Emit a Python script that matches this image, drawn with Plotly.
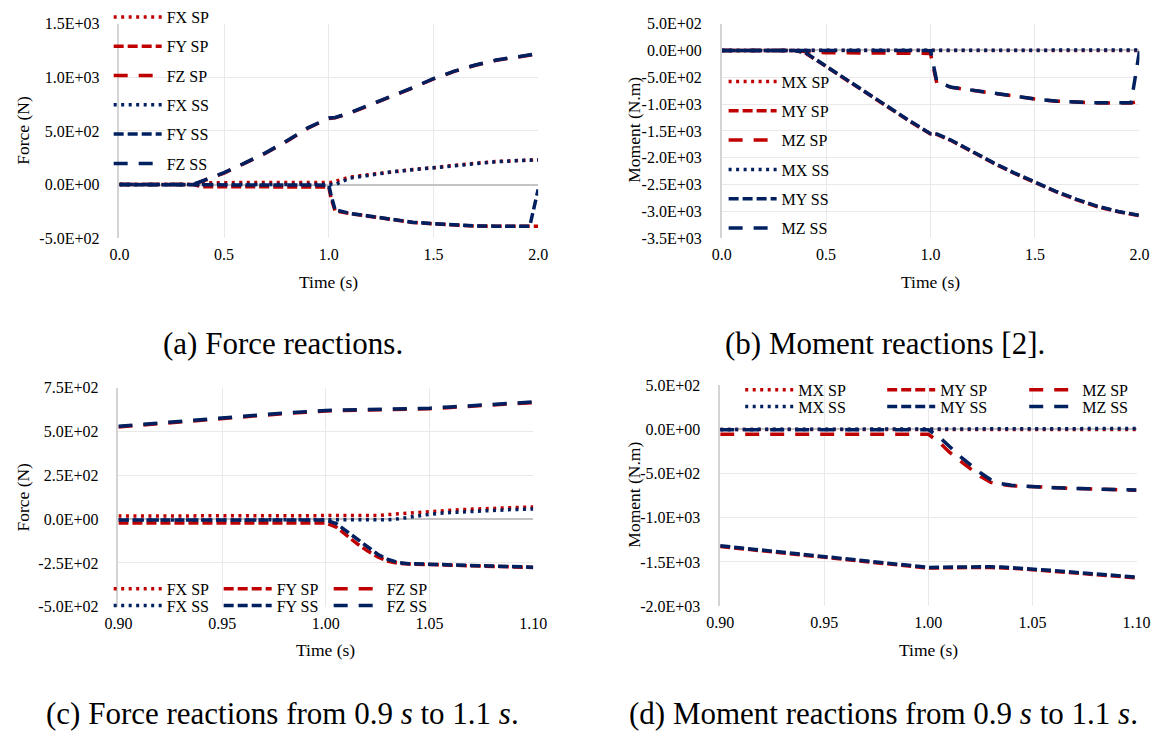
import plotly.graph_objects as go

W, H = 1171, 738
RED = "#C00000"
NAVY = "#002060"
FONT = "Liberation Serif"

# ---------------- data: full time range (panels a, b) ----------------
t_full = [0.0, 0.1, 0.2, 0.3, 0.35, 0.4, 0.5, 0.6, 0.7, 0.8, 0.9, 1.0, 1.01, 1.03,
          1.1, 1.2, 1.3, 1.4, 1.5, 1.6, 1.7, 1.8, 1.9, 1.96, 2.0]

fx_sp = [0, 0, 0, 0, 0, 18, 18, 18, 18, 18, 18, 18, 20, 30,
         70, 95, 120, 140, 158, 180, 200, 215, 225, 228, 232]
fy_sp = [0, 0, 0, 0, 0, -20, -20, -20, -20, -20, -20, -22, -120, -245,
         -270, -300, -330, -352, -365, -378, -386, -388, -388, -388, -388]
fz_sp = [0, 0, 0, 0, 0, 35, 108, 200, 295, 405, 526, 617, 618, 622,
         665, 740, 822, 900, 985, 1055, 1112, 1158, 1192, 1208, 1218]
fx_ss = [0, 0, 0, 0, 0, -3, -3, -3, -3, -3, -3, -3, -3, 0,
         60, 92, 118, 138, 156, 178, 198, 213, 224, 227, 230]
fy_ss = [0, 0, 0, 0, 0, -5, -5, -5, -5, -5, -5, -5, -90, -235,
         -268, -298, -328, -350, -363, -376, -385, -387, -387, -387, -45]
fz_ss = [0, 0, 0, 0, 0, 38, 111, 203, 298, 408, 529, 620, 621, 625,
         668, 743, 825, 903, 988, 1058, 1115, 1161, 1195, 1211, 1221]

mx_sp = [0, 0, 0, 0, 0, 0, 0, 0, 0, 0, 0, 0, 0, 0,
         0, 0, 0, 0, 0, 0, 0, 0, 0, 0, 0]
my_sp = [0, 0, 0, 0, 0, -45, -300, -565, -825, -1070, -1320, -1558, -1565, -1565,
         -1682, -1898, -2098, -2288, -2468, -2633, -2783, -2913, -3008, -3050, -3080]
mz_sp = [0, 0, 0, 0, 0, -20, -45, -45, -45, -45, -50, -55, -255, -605,
         -688, -740, -800, -860, -905, -945, -968, -978, -978, -978, -945]
mx_ss = [0, 0, 0, 0, 0, 3, 3, 3, 3, 3, 3, 4, 5, 6,
         8, 8, 8, 8, 8, 8, 8, 8, 8, 8, 8]
my_ss = [0, 0, 0, 0, 0, -38, -292, -557, -817, -1062, -1312, -1550, -1557, -1557,
         -1674, -1890, -2090, -2280, -2460, -2625, -2775, -2905, -3000, -3042, -3072]
mz_ss = [0, 0, 0, 0, 0, 0, -3, -3, -3, -3, -3, -3, -200, -580,
         -686, -738, -798, -858, -903, -943, -966, -976, -976, -976, -15]

# ---------------- data: zoomed time range (panels c, d) ----------------
t_zoom = [0.90, 0.92, 0.94, 0.96, 0.98, 1.00, 1.005, 1.01, 1.015, 1.02,
          1.025, 1.03, 1.035, 1.04, 1.05, 1.06, 1.07, 1.08, 1.09, 1.10]

fx_sp_z = [18, 18, 18, 18, 18, 18, 18, 18, 18, 19, 21, 26, 31, 36, 44, 51, 57, 62, 66, 70]
fy_sp_z = [-22, -22, -22, -22, -22, -22, -45, -95, -140, -180,
           -215, -240, -252, -256, -260, -262, -265, -268, -272, -276]
fz_sp_z = [527, 547, 565, 585, 603, 618, 619, 620, 621, 622,
           623, 624, 625, 627, 631, 638, 645, 653, 660, 666]
fx_ss_z = [-5, -5, -5, -5, -5, -5, -5, -5, -5, -5, -5, -3, 2, 10, 28, 38, 45, 50, 55, 58]
fy_ss_z = [-5, -5, -5, -5, -5, -5, -25, -70, -115, -160,
           -200, -230, -248, -254, -258, -260, -263, -266, -270, -274]
fz_ss_z = [530, 550, 568, 588, 606, 621, 622, 623, 624, 625,
           626, 627, 628, 630, 634, 641, 648, 656, 663, 669]

mx_sp_z = [0, 0, 0, 0, 0, 0, 0, 0, 0, 0, 0, 0, 0, 0, 0, 0, 0, 0, 0, 0]
my_sp_z = [-1325, -1375, -1425, -1472, -1520, -1570, -1568, -1565, -1562, -1562,
           -1562, -1563, -1566, -1572, -1588, -1605, -1625, -1645, -1662, -1680]
mz_sp_z = [-55, -55, -55, -55, -55, -55, -140, -255, -350, -445,
           -530, -600, -625, -637, -650, -660, -668, -676, -682, -688]
mx_ss_z = [0, 0, 0, 0, 0, 0, 2, 3, 3, 4, 4, 5, 5, 6, 7, 8, 9, 10, 11, 12]
my_ss_z = [-1317, -1367, -1417, -1464, -1512, -1562, -1560, -1557, -1554, -1554,
           -1554, -1555, -1558, -1564, -1580, -1597, -1617, -1637, -1654, -1672]
mz_ss_z = [-3, -3, -3, -3, -3, -3, -80, -195, -300, -395,
           -490, -570, -615, -633, -648, -659, -667, -675, -681, -687]

# ---------------- tick labels ----------------
ticks_a = [-500, 0, 500, 1000, 1500]
labels_a = ["-5.0E+02", "0.0E+00", "5.0E+02", "1.0E+03", "1.5E+03"]
ticks_b = [-3500, -3000, -2500, -2000, -1500, -1000, -500, 0, 500]
labels_b = ["-3.5E+03", "-3.0E+03", "-2.5E+03", "-2.0E+03", "-1.5E+03",
            "-1.0E+03", "-5.0E+02", "0.0E+00", "5.0E+02"]
ticks_c = [-500, -250, 0, 250, 500, 750]
labels_c = ["-5.0E+02", "-2.5E+02", "0.0E+00", "2.5E+02", "5.0E+02", "7.5E+02"]
ticks_d = [-2000, -1500, -1000, -500, 0, 500]
labels_d = ["-2.0E+03", "-1.5E+03", "-1.0E+03", "-5.0E+02", "0.0E+00", "5.0E+02"]

captions = ["(a) Force reactions.", "(b) Moment reactions [2].",
            "(c) Force reactions from 0.9 <i>s</i> to 1.1 <i>s</i>.",
            "(d) Moment reactions from 0.9 <i>s</i> to 1.1 <i>s</i>."]

DOT = "3px,4.5px"
DASH = "10px,4px"
LDASH = "14px,11px"
LW = 3.5


def px_x(p):
    return p / W


def px_y(p):
    return 1 - p / H


fig = go.Figure()


def add_set(names, xs, ys_list, colors, dashes, xa, ya, legends, groups):
    for name, ys, c, d, lg, gr in zip(names, ys_list, colors, dashes, legends, groups):
        fig.add_trace(go.Scatter(x=xs, y=ys, name=name, mode="lines",
                                 line=dict(color=c, width=LW, dash=d),
                                 xaxis=xa, yaxis=ya, legend=lg, legendgroup=gr))


cols = [RED, RED, RED, NAVY, NAVY, NAVY]
dashes = [DOT, DASH, LDASH, DOT, DASH, LDASH]

# panel a
add_set(["FX SP", "FY SP", "FZ SP", "FX SS", "FY SS", "FZ SS"], t_full,
        [fx_sp, fy_sp, fz_sp, fx_ss, fy_ss, fz_ss], cols, dashes, "x", "y",
        ["legend"] * 6, ["a1", "a2", "a3", "a4", "a5", "a6"])
# panel b
add_set(["MX SP", "MY SP", "MZ SP", "MX SS", "MY SS", "MZ SS"], t_full,
        [mx_sp, my_sp, mz_sp, mx_ss, my_ss, mz_ss], cols, dashes, "x2", "y2",
        ["legend2"] * 6, ["b1", "b2", "b3", "b4", "b5", "b6"])
# panel c
add_set(["FX SP", "FY SP", "FZ SP", "FX SS", "FY SS", "FZ SS"], t_zoom,
        [fx_sp_z, fy_sp_z, fz_sp_z, fx_ss_z, fy_ss_z, fz_ss_z], cols, dashes, "x3", "y3",
        ["legend3"] * 3 + ["legend4"] * 3, ["c1", "c2", "c3", "c4", "c5", "c6"])
# panel d
add_set(["MX SP", "MY SP", "MZ SP", "MX SS", "MY SS", "MZ SS"], t_zoom,
        [mx_sp_z, my_sp_z, mz_sp_z, mx_ss_z, my_ss_z, mz_ss_z], cols, dashes, "x4", "y4",
        ["legend5"] * 3 + ["legend6"] * 3, ["d1", "d2", "d3", "d4", "d5", "d6"])

GRID = "#E9E9E9"
tickfont = dict(family=FONT, size=16, color="#000000")


def xaxis(domain, rng, dtick, fmt, anchor):
    return dict(domain=domain, range=rng, dtick=dtick, tick0=rng[0], tickformat=fmt,
                showgrid=True, gridcolor=GRID, gridwidth=1.3, zeroline=False,
                showline=False, ticks="", tickfont=tickfont, anchor=anchor,
                ticklabelstandoff=5, fixedrange=True)


def yaxis(domain, rng, tv, tt, anchor):
    return dict(domain=domain, range=rng, tickvals=tv, ticktext=tt,
                showgrid=True, gridcolor=GRID, gridwidth=1.3,
                zeroline=True, zerolinecolor="#C4C4C4", zerolinewidth=1.5,
                showline=True, linecolor="#D4D4D4", linewidth=1.5,
                ticks="", tickfont=tickfont, anchor=anchor,
                ticklabelstandoff=15, fixedrange=True)


layout = dict(
    width=W, height=H, margin=dict(l=0, r=0, t=0, b=0),
    paper_bgcolor="white", plot_bgcolor="white",
    font=dict(family=FONT, size=16, color="#000000"),
    xaxis=xaxis([px_x(108), px_x(537)], [0, 2], 0.5, ".1f", "y"),
    yaxis=yaxis([px_y(235), px_y(15)], [-500, 1500], ticks_a, labels_a, "x"),
    xaxis2=xaxis([px_x(725), px_x(1153)], [0, 2], 0.5, ".1f", "y2"),
    yaxis2=yaxis([px_y(235), px_y(15)], [-3500, 500], ticks_b, labels_b, "x2"),
    xaxis3=xaxis([px_x(107), px_x(532)], [0.9, 1.1], 0.05, ".2f", "y3"),
    yaxis3=yaxis([px_y(612.7), px_y(388.3)], [-500, 750], ticks_c, labels_c, "x3"),
    xaxis4=xaxis([px_x(723.5), px_x(1150)], [0.9, 1.1], 0.05, ".2f", "y4"),
    yaxis4=yaxis([px_y(612), px_y(385.7)], [-2000, 500], ticks_d, labels_d, "x4"),
)

leg_common = dict(font=dict(family=FONT, size=16, color="#000000"),
                  bgcolor="rgba(0,0,0,0)", borderwidth=0, itemwidth=48,
                  xanchor="left", yanchor="top", itemclick=False, itemdoubleclick=False)

layout["legend"] = dict(**leg_common, x=px_x(97), y=px_y(-9.5), orientation="v",
                        traceorder="grouped", tracegroupgap=5.5)
layout["legend2"] = dict(**leg_common, x=px_x(727), y=px_y(57), orientation="v",
                         traceorder="grouped", tracegroupgap=5.5)
layout["legend3"] = dict(**leg_common, x=px_x(97), y=px_y(577), orientation="h",
                         entrywidth=47, traceorder="normal")
layout["legend4"] = dict(**leg_common, x=px_x(97), y=px_y(594), orientation="h",
                         entrywidth=47, traceorder="normal")
layout["legend5"] = dict(**leg_common, x=px_x(744), y=px_y(373), orientation="h",
                         entrywidth=79, traceorder="normal")
layout["legend6"] = dict(**leg_common, x=px_x(744), y=px_y(390), orientation="h",
                         entrywidth=79, traceorder="normal")

annotations = []
# axis titles
for (cx, cy, txt) in [(9, 124, "Force (N)"), (635, 124, "Moment (N.m)"),
                      (9, 500, "Force (N)"), (635, 498, "Moment (N.m)")]:
    annotations.append(dict(x=px_x(cx), y=px_y(cy), xref="paper", yref="paper",
                            text=txt, showarrow=False, textangle=-90,
                            font=dict(family=FONT, size=17.5, color="#000000"),
                            xanchor="center", yanchor="middle"))
for (cx, cy) in [(322.5, 280), (939, 280), (319.5, 657), (937, 657)]:
    annotations.append(dict(x=px_x(cx), y=px_y(cy), xref="paper", yref="paper",
                            text="Time (s)", showarrow=False,
                            font=dict(family=FONT, size=17.5, color="#000000"),
                            xanchor="center", yanchor="middle"))
# captions
for (cx, cy), txt in zip([(276, 343), (892, 343), (275, 722), (891, 722)], captions):
    annotations.append(dict(x=px_x(cx), y=px_y(cy), xref="paper", yref="paper",
                            text=txt, showarrow=False,
                            font=dict(family=FONT, size=31, color="#000000"),
                            xanchor="center", yanchor="middle"))
layout["annotations"] = annotations

fig.update_layout(**layout)
fig.write_html("out.html")
